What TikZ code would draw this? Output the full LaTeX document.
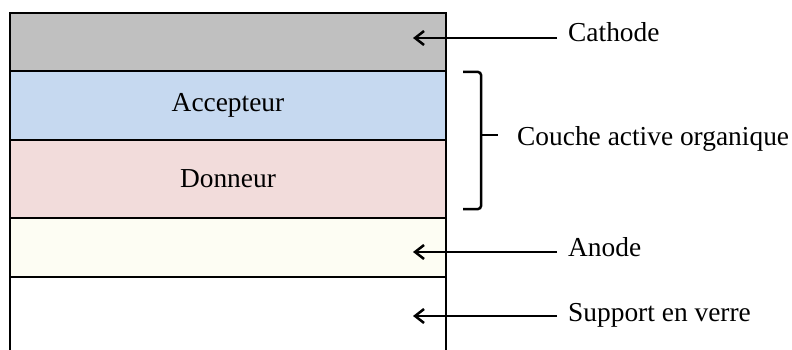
\documentclass[tikz,border=0pt]{standalone}
\usepackage{fontspec}
\setmainfont{Liberation Serif}
\usetikzlibrary{arrows.meta}
\definecolor{cathgray}{HTML}{C0C0C0}
\definecolor{accblue}{HTML}{C6D9F0}
\definecolor{donpink}{HTML}{F2DCDB}
\definecolor{anocream}{HTML}{FDFDF3}
\begin{document}
\begin{tikzpicture}[x=1pt,y=-1pt,
  layer/.style={rectangle,draw=black,line width=2.5pt,minimum width=436pt,outer sep=0pt,inner sep=0pt,anchor=north west,
    font=\fontsize{27.4}{32}\selectfont},
  lbl/.style={anchor=base west,inner sep=0pt,font=\fontsize{27.4}{32}\selectfont},
  arr/.style={line width=2.5pt,-{Straight Barb[length=9pt,width=14pt,line width=2.5pt]}},
  brace/.style={line width=2.5pt,rounded corners=3pt}]
\useasboundingbox (0,0) rectangle (792,350);
\node[layer,fill=cathgray,minimum height=58pt] (cathode) at (10,13) {};
\node[layer,fill=accblue,minimum height=69pt] (accepteur) at (10,71) {Accepteur};
\node[layer,fill=donpink,minimum height=78pt] (donneur) at (10,140) {Donneur};
\node[layer,fill=anocream,minimum height=59pt] (anode) at (10,218) {};
\node[layer,draw=none,fill=white,minimum height=73pt] (support) at (10,277) {};
\draw[line width=2.5pt] (support.north west) -- (support.south west);
\draw[line width=2.5pt] (support.north east) -- (support.south east);
\draw[line width=2.5pt] (anode.south west) -- (anode.south east);
% labels
\node[lbl] (lcath) at (568,42) {Cathode};
\node[lbl] (lano) at (568,256) {Anode};
\node[lbl] (lsup) at (568,321) {Support en verre};
\node[lbl] (lcouche) at (517,146) {Couche active organique};
% arrow tips
\coordinate (tcath) at (413,38);
\coordinate (tano) at (413,252);
\coordinate (tsup) at (413,316);
\draw[arr] ([xshift=-11pt]lcath.west |- tcath) -- (tcath);
\draw[arr] ([xshift=-11pt]lano.west |- tano) -- (tano);
\draw[arr] ([xshift=-11pt]lsup.west |- tsup) -- (tsup);
% brace
\coordinate (btop) at (463,72);
\coordinate (bbot) at (463,209);
\coordinate (bmid) at (481,135);
\draw[brace] (btop) -- (481,72) -- (bmid) -- (bbot -| bmid) -- (bbot);
\draw[line width=2.5pt] (bmid) -- ([xshift=-19pt]lcouche.west |- bmid);
\end{tikzpicture}
\end{document}
